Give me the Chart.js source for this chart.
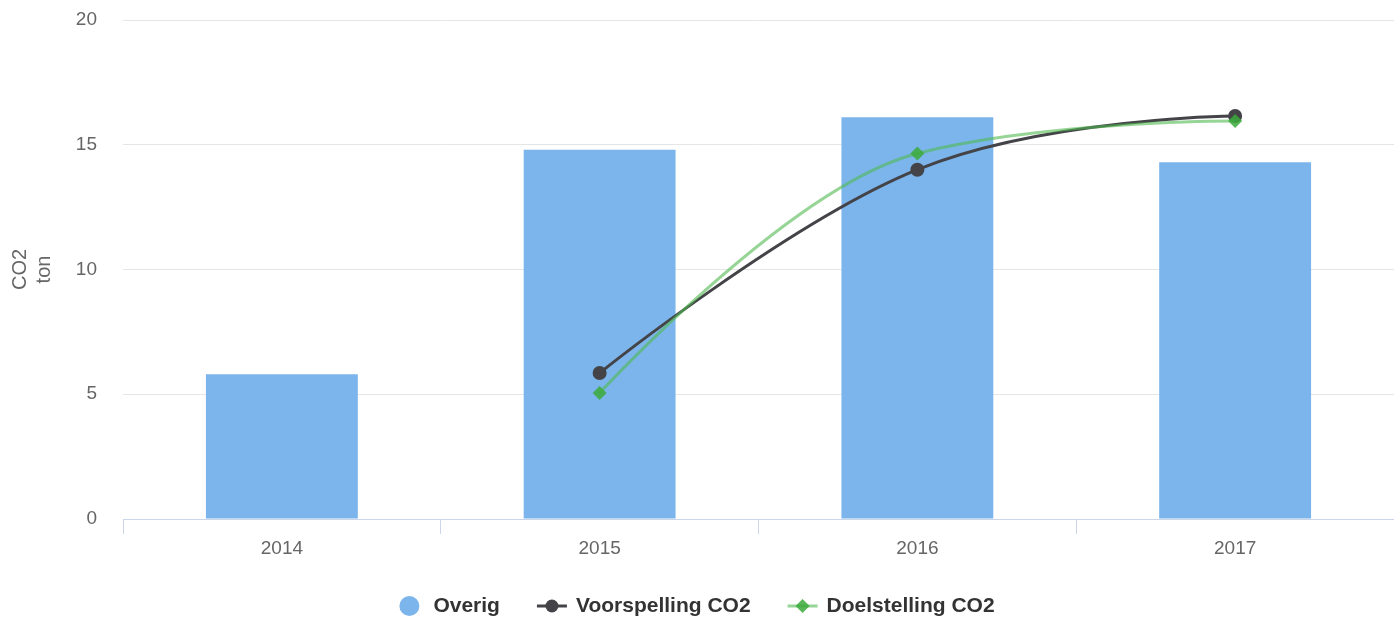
<!DOCTYPE html>
<html>
<head>
<meta charset="utf-8">
<script src="https://cdn.jsdelivr.net/npm/chart.js@4"></script>
<style>
  html, body { margin: 0; padding: 0; background: #fff; }
  #wrap { width: 1394px; height: 619px; }
</style>
</head>
<body>
<div id="wrap"><canvas id="co2Chart"></canvas></div>
<script>
const YEARS = ['2014', '2015', '2016', '2017'];
const OVERIG = [5.8, 14.8, 16.1, 14.3];
const VOORSPELLING = [null, 5.85, 14.0, 16.15];
const DOELSTELLING = [null, 5.05, 14.65, 15.95];
const Y_TICKS = [0, 5, 10, 15, 20];

const FONT = '"Liberation Sans", Arial, Helvetica, sans-serif';
const BLUE = '#7cb5ec';
const DARK = '#434348';
const GREEN_LINE = 'rgba(80, 185, 80, 0.6)';
const GREEN_DOT = 'rgba(60, 170, 60, 0.85)';

// spline control points the way the original chart smooths them
// (neighbour based, clamped so the curve never overshoots a point)
const splineCurve = {
  id: 'splineCurve',
  beforeDatasetsDraw(chart) {
    chart.data.datasets.forEach((ds, i) => {
      if (ds.type !== 'line') return;
      const meta = chart.getDatasetMeta(i);
      meta.dataset.updateControlPoints(chart.chartArea, 'x');
      const pts = meta.data.filter(p => !p.skip);
      const sm = 1.5, den = sm + 1;
      pts.forEach((p, k) => {
        if (k > 0 && k < pts.length - 1) {
          const a = pts[k - 1], b = pts[k + 1];
          const lx = (sm * p.x + a.x) / den, rx = (sm * p.x + b.x) / den;
          let ly = (sm * p.y + a.y) / den, ry = (sm * p.y + b.y) / den;
          const corr = ((ry - ly) * (rx - p.x)) / (rx - lx) + p.y - ry;
          ly += corr; ry += corr;
          if (ly > a.y && ly > p.y) { ly = Math.max(a.y, p.y); ry = 2 * p.y - ly; }
          else if (ly < a.y && ly < p.y) { ly = Math.min(a.y, p.y); ry = 2 * p.y - ly; }
          if (ry > b.y && ry > p.y) { ry = Math.max(b.y, p.y); ly = 2 * p.y - ry; }
          else if (ry < b.y && ry < p.y) { ry = Math.min(b.y, p.y); ly = 2 * p.y - ry; }
          p.cp1x = lx; p.cp1y = ly; p.cp2x = rx; p.cp2y = ry;
        } else {
          p.cp1x = p.cp2x = p.x;
          p.cp1y = p.cp2y = p.y;
        }
      });
    });
  }
};

// legend drawn by hand so the line series get "line + marker" symbols
const bottomLegend = {
  id: 'bottomLegend',
  afterDraw(chart) {
    const ctx = chart.ctx;
    const y = 606;
    ctx.save();
    ctx.font = 'bold 21px ' + FONT;
    ctx.textBaseline = 'middle';
    const items = chart.data.datasets.map(ds => ({
      label: ds.label,
      kind: ds.type === 'line' ? 'line' : 'bar',
      ds,
      symW: ds.type === 'line' ? 30 : 20,
      gap: ds.type === 'line' ? 9 : 14,
    }));
    items.forEach(it => { it.w = it.symW + it.gap + ctx.measureText(it.label).width; });
    const spacing = 37;
    const total = items.reduce((s, it) => s + it.w, 0) + spacing * (items.length - 1);
    let x = (chart.width - total) / 2;
    items.forEach(it => {
      const ds = it.ds;
      if (it.kind === 'bar') {
        ctx.fillStyle = ds.backgroundColor;
        ctx.beginPath();
        ctx.arc(x + 10, y, 10, 0, Math.PI * 2);
        ctx.fill();
      } else {
        ctx.strokeStyle = ds.borderColor;
        ctx.lineWidth = 3;
        ctx.beginPath();
        ctx.moveTo(x, y);
        ctx.lineTo(x + 30, y);
        ctx.stroke();
        ctx.fillStyle = ds.pointBackgroundColor;
        ctx.beginPath();
        if (ds.pointStyle === 'rectRot') {
          ctx.moveTo(x + 15, y - 7);
          ctx.lineTo(x + 22, y);
          ctx.lineTo(x + 15, y + 7);
          ctx.lineTo(x + 8, y);
          ctx.closePath();
        } else {
          ctx.arc(x + 15, y, 6.5, 0, Math.PI * 2);
        }
        ctx.fill();
      }
      ctx.fillStyle = '#333333';
      ctx.textAlign = 'left';
      ctx.fillText(it.label, x + it.symW + it.gap, y);
      x += it.w + spacing;
    });
    ctx.restore();
  }
};

new Chart(document.getElementById('co2Chart'), {
  type: 'bar',
  data: {
    labels: YEARS,
    datasets: [
      {
        label: 'Overig',
        data: OVERIG,
        backgroundColor: BLUE,
        borderWidth: 0,
        barPercentage: 0.478,
        categoryPercentage: 1,
        order: 3,
      },
      {
        type: 'line',
        label: 'Voorspelling CO2',
        data: VOORSPELLING,
        borderColor: DARK,
        borderWidth: 3,
        tension: 0.4,
        pointStyle: 'circle',
        pointRadius: 7,
        pointBorderWidth: 0,
        pointBackgroundColor: DARK,
        order: 2,
      },
      {
        type: 'line',
        label: 'Doelstelling CO2',
        data: DOELSTELLING,
        borderColor: GREEN_LINE,
        borderWidth: 3,
        tension: 0.4,
        pointStyle: 'rectRot',
        pointRadius: 7,
        pointBorderWidth: 0,
        pointBackgroundColor: GREEN_DOT,
        order: 1,
      },
    ],
  },
  options: {
    responsive: true,
    maintainAspectRatio: false,
    animation: false,
    layout: { autoPadding: false, padding: { top: 20, right: 0, bottom: 50, left: 0 } },
    plugins: {
      legend: { display: false },
      tooltip: { enabled: false },
    },
    scales: {
      x: {
        offset: true,
        grid: { offset: true, drawOnChartArea: false, color: '#ccd6eb', tickLength: 15 },
        border: { color: '#ccd6eb', width: 1 },
        ticks: { color: '#666666', font: { family: FONT, size: 19 }, padding: 3 },
        afterFit(scale) { scale.height = 50; },
      },
      y: {
        min: 0,
        max: 20,
        afterBuildTicks(scale) { scale.ticks = Y_TICKS.map(v => ({ value: v })); },
        grid: { color: '#e6e6e6', drawTicks: false },
        border: { display: false },
        ticks: { color: '#666666', font: { family: FONT, size: 19 }, padding: 26 },
        title: {
          display: true,
          text: ['CO2', 'ton'],
          color: '#666666',
          font: { family: FONT, size: 20 },
          padding: { top: 8, bottom: 0 },
        },
        afterFit(scale) {
          scale.width = 123;
          scale.paddingTop = 0;
          scale.paddingBottom = 0;
        },
      },
    },
  },
  plugins: [splineCurve, bottomLegend],
});
</script>
</body>
</html>
